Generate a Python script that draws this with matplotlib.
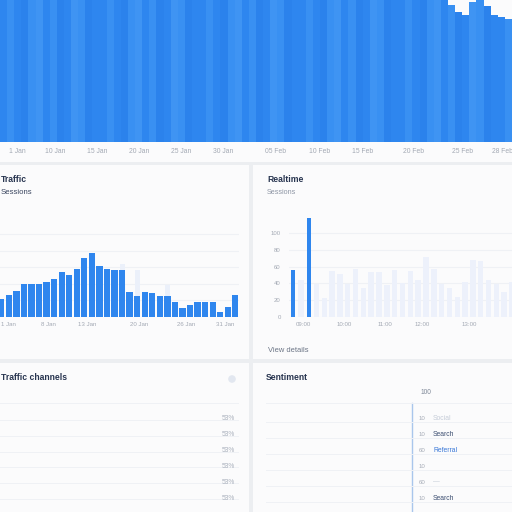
import matplotlib
matplotlib.use('Agg')
import matplotlib.pyplot as plt
from matplotlib.patches import Rectangle, Circle

plt.rcParams['font.family'] = ['Liberation Sans', 'DejaVu Sans']

# top strip: daily volume (most bars run past the top of the view)
top_vals = [112, 108, 115, 110, 118, 109, 113, 107, 116, 111, 114, 108,
            119, 110, 112, 117, 109, 115, 111, 108, 113, 116, 110, 114,
            109, 118, 112, 107, 115, 111, 113, 110, 116, 108, 114, 112,
            117, 109, 111, 115, 108, 113, 110, 116, 112, 109, 114, 111,
            118, 110, 113, 108, 115, 112, 109, 116, 111, 114, 110, 113,
            108, 112, 107, 96.5, 91.8, 89.4, 98.6, 103, 95.8, 89.4, 88, 86.6]
top_ticks = [1.9, 7.2, 13.2, 19.0, 25.0, 30.9, 38.3, 44.5, 50.5, 57.7, 64.5, 70.2]
top_labels = ['1 Jan', '10 Jan', '15 Jan', '20 Jan', '25 Jan', '30 Jan',
              '05 Feb', '10 Feb', '15 Feb', '20 Feb', '25 Feb', '28 Feb']

# middle left: traffic / sessions
traffic_vals = [21.8, 26.7, 31.2, 39.2, 39.2, 40, 42, 46, 54.5, 50.5, 57.8,
                71.5, 77.2, 61, 57.3, 57, 56.1, 30.3, 25, 29.5, 29, 24.6,
                24.6, 17.8, 10, 14.2, 18.2, 17.3, 17.3, 5.7, 11.3, 25.8]
traffic_ghost = [0, 0, 0, 0, 0, 0, 0, 0, 0, 0, 0, 0, 0, 0, 0, 0, 64, 0,
                 57, 0, 0, 0, 38, 0, 0, 0, 0, 0, 0, 0, 0, 0]
traffic_ticks = [1.0, 6.3, 11.4, 18.2, 24.5, 29.6]
traffic_labels = ['1 Jan', '8 Jan', '13 Jan', '20 Jan', '26 Jan', '31 Jan']

# middle right: realtime sessions
realtime_vals = [56, 44, 118, 39, 22, 55, 51, 39, 57, 34, 54, 53, 38, 56,
                 40, 55, 44, 71, 57, 39, 34, 24, 42, 68, 67, 44, 39, 30, 42]
realtime_hot = [0, 2]
realtime_yticks = [0, 20, 40, 60, 80, 100]
realtime_ticks = [1.3, 6.6, 11.8, 16.5, 22.5]
realtime_labels = ['09:00', '10:00', '11:00', '12:00', '13:00']

# bottom left: channel shares
channel_shares = ['53%', '53%', '53%', '53%', '53%', '53%']

# bottom right: sentiment rows
sent_counts = ['10', '10', '60', '10', '60', '10']
sent_names = ['Social', 'Search', 'Referral', '', '\u2014', 'Search']
sent_colors = ['#c5ccd8', '#3b4d70', '#3a78d8', '#c5ccd8', '#c5ccd8', '#3b4d70']

BLUE = '#2f86ee'
SHADES = ['#2e86ef', '#3990f2', '#2b82ec', '#3f94f3']
PATTERN = [0, 1, 0, 2, 1, 3, 0, 1, 2, 0, 3, 1, 2, 0]
PANEL = '#fbfbfc'
GRID = '#eff1f5'
TICK = '#a3a9b4'
NAVY = '#27344f'

fig = plt.figure(figsize=(5.12, 5.12), dpi=100)
fig.patch.set_facecolor('#eceef1')

bg = fig.add_axes([0, 0, 1, 1])
bg.set_xlim(0, 512)
bg.set_ylim(512, 0)
bg.axis('off')

for x0, y0, x1, y1 in [(0, 0, 512, 162), (0, 165, 249, 359), (253, 165, 512, 359),
                       (0, 363, 249, 512), (253, 363, 512, 512)]:
    bg.add_patch(Rectangle((x0, y0), x1 - x0, y1 - y0, facecolor=PANEL, edgecolor='none'))


def px_axes(x0, y0, x1, y1):
    ax = fig.add_axes([x0 / 512, 1 - y1 / 512, (x1 - x0) / 512, (y1 - y0) / 512])
    ax.patch.set_alpha(0)
    for s in ax.spines.values():
        s.set_visible(False)
    return ax


# ---- top strip
ax = px_axes(0, 0, 512, 142)
ax.bar(range(len(top_vals)), top_vals, width=1.0,
       color=[SHADES[PATTERN[i % len(PATTERN)]] for i in range(len(top_vals))], linewidth=0)
ax.set_xlim(-0.5, len(top_vals) - 0.5)
ax.set_ylim(0, 100)
ax.set_yticks([])
ax.set_xticks(top_ticks)
ax.set_xticklabels(top_labels, fontsize=4.9, color=TICK)
ax.tick_params(axis='x', length=0, pad=4.2)

# ---- middle left
ax = px_axes(-2.5, 225, 239.1, 316.7)
ax.set_xlim(-0.5, len(traffic_vals) - 0.5)
ax.set_ylim(0, 111)
for g in [20, 40, 60, 80, 100]:
    ax.axhline(g, color=GRID, lw=0.8, zorder=0)
ax.bar(range(len(traffic_ghost)), traffic_ghost, width=0.65, color='#ebf0fa', linewidth=0, zorder=1)
ax.bar(range(len(traffic_vals)), traffic_vals, width=0.84, color=BLUE, linewidth=0, zorder=2)
ax.set_yticks([])
ax.set_xticks(traffic_ticks)
ax.set_xticklabels(traffic_labels, fontsize=4.4, color=TICK)
ax.tick_params(axis='x', length=0, pad=4)
bg.text(1, 179, 'Traffic', fontsize=6.2, fontweight='bold', color=NAVY, va='center')
bg.text(1, 193, 'Sessions', fontsize=5.6, color='#3b4660', va='center')

# ---- middle right
ax = px_axes(289.1, 210, 515.9, 316.7)
n = len(realtime_vals)
ax.set_xlim(-0.5, n - 0.5)
ax.set_ylim(0, 127.8)
for g in realtime_yticks:
    ax.axhline(g, color=GRID, lw=0.8, zorder=0)
faint = [0 if i in realtime_hot else v for i, v in enumerate(realtime_vals)]
hot = [v if i in realtime_hot else 0 for i, v in enumerate(realtime_vals)]
ax.bar(range(n), faint, width=0.7, color='#edf1fb', linewidth=0, zorder=1)
ax.bar(range(n), hot, width=0.5, color=BLUE, linewidth=0, zorder=2)
ax.set_yticks(realtime_yticks)
ax.set_yticklabels([str(v) for v in realtime_yticks], fontsize=4.3, color=TICK)
ax.set_xticks(realtime_ticks)
ax.set_xticklabels(realtime_labels, fontsize=4.4, color=TICK)
ax.tick_params(axis='both', length=0)
ax.tick_params(axis='y', pad=6)
ax.tick_params(axis='x', pad=4)
bg.text(267, 179, 'Realtime', fontsize=6.2, fontweight='bold', color=NAVY, va='center')
bg.text(267, 193, 'Sessions', fontsize=5.2, color='#8e96a5', va='center')
bg.text(268, 351, 'View details', fontsize=5.4, color='#6b7485', va='center')

# ---- bottom left
bg.text(1, 378, 'Traffic channels', fontsize=6.2, fontweight='bold', color=NAVY, va='center')
bg.add_patch(Circle((232, 379), 3.8, facecolor='#e2e7f0', edgecolor='none'))
bg.plot([0, 238], [403, 403], color=GRID, lw=0.7)
for i, s in enumerate(channel_shares):
    y = 419 + i * 15.8
    bg.plot([0, 238], [y + 1, y + 1], color=GRID, lw=0.7)
    bg.text(235, y, s, fontsize=4.8, color='#aab1bd', ha='right', va='center')

# ---- bottom right
bg.text(266, 378, 'Sentiment', fontsize=6.2, fontweight='bold', color=NAVY, va='center')
bg.text(421, 393, '100', fontsize=4.8, color='#7d8797', va='center')
bg.plot([411.7, 411.7], [403, 512], color='#a9c6ec', lw=1.0)
bg.plot([266, 512], [403, 403], color=GRID, lw=0.7)
for i, (c, nm, col) in enumerate(zip(sent_counts, sent_names, sent_colors)):
    y = 418 + i * 16
    bg.plot([266, 512], [y + 4, y + 4], color=GRID, lw=0.7)
    bg.text(419, y, c, fontsize=4.4, color='#a7adb8', va='center')
    bg.text(433, y, nm, fontsize=4.9, color=col, va='center')

fig.savefig('out.png', dpi=100, facecolor=fig.get_facecolor())
